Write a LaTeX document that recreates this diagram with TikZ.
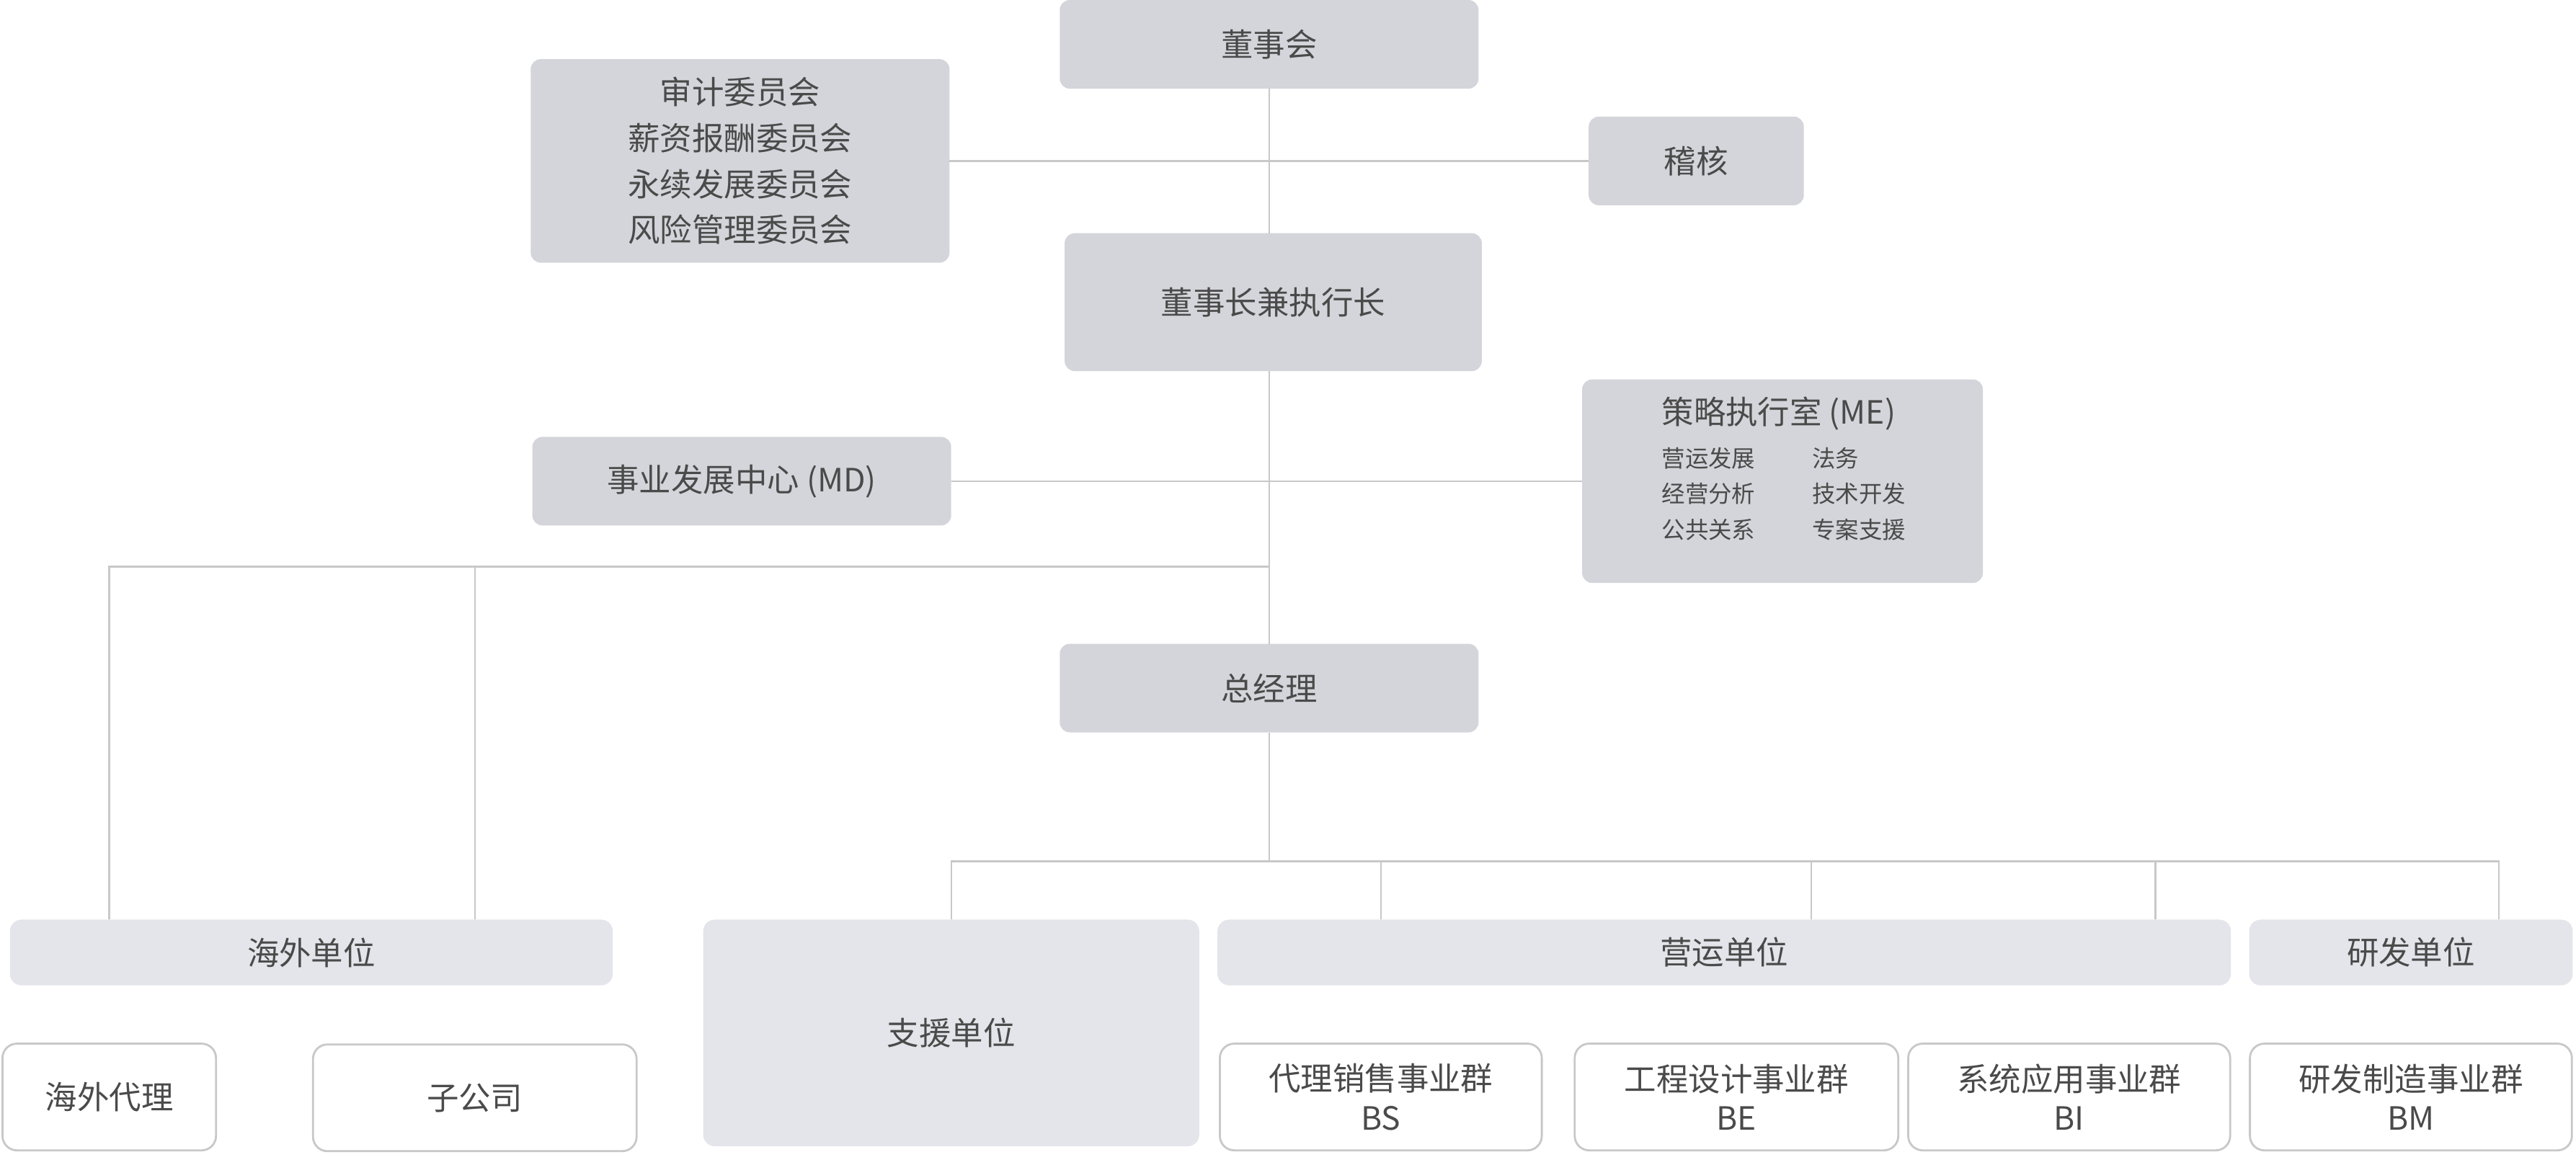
\documentclass[tikz,border=0pt]{standalone}
\usepackage{fontspec}
\setmainfont{Noto Sans CJK SC}
\definecolor{boxdark}{HTML}{D4D5DA}
\definecolor{boxlight}{HTML}{E4E5EA}
\definecolor{linegray}{HTML}{C8C8C8}
\definecolor{textgray}{HTML}{4A4A4A}

\begin{document}
\begin{tikzpicture}[x=0.02cm,y=-0.02cm,
  every node/.style={text=textgray,inner sep=0pt,outer sep=0pt,
    font=\fontsize{11.1}{15.9}\selectfont},
  topbox/.style={fill=boxdark,rounded corners=3.5pt},
  unitbox/.style={fill=boxlight,rounded corners=4pt},
  leafbox/.style={draw=linegray,line width=0.7pt,fill=white,
    rounded corners=5pt,align=center,minimum height=1.3cm,
    font=\fontsize{11.1}{13.6}\selectfont},
  small/.style={anchor=west,font=\fontsize{8.1}{10}\selectfont},
  link/.style={draw=linegray,line width=0.6pt}]
  \useasboundingbox (0,0) rectangle (1568,709);
  % board level
  \node[topbox,minimum width=5.1cm,minimum height=1.08cm] (board) at (772.5,27) {董事会};
  \node[topbox,minimum width=5.1cm,minimum height=2.48cm,align=center] (cmte) at (450.5,98)
    {审计委员会\\薪资报酬委员会\\永续发展委员会\\风险管理委员会};
  \node[topbox,minimum width=2.62cm,minimum height=1.08cm] (audit) at (1032.5,98) {稽核};
  \node[topbox,minimum width=5.08cm,minimum height=1.68cm] (chair) at (775,184) {董事长兼执行长};
  % staff offices
  \node[topbox,minimum width=5.1cm,minimum height=1.08cm] (md) at (451.5,293) {事业发展中心 (MD)};
  \node[topbox,minimum width=4.88cm,minimum height=2.48cm] (me) at (1085,293) {};
  \node[anchor=west] (metitle) at (1011.5,252) {策略执行室 (ME)};
  \node[small] (meA) at (1011.5,279) {营运发展};
  \node[small] (meB) at (1103,279) {法务};
  \node[small] (meC) at (1011.5,300.5) {经营分析};
  \node[small] (meD) at (1103,300.5) {技术开发};
  \node[small] (meE) at (1011.5,322.5) {公共关系};
  \node[small] (meF) at (1103,322.5) {专案支援};
  \node[topbox,minimum width=5.1cm,minimum height=1.08cm] (gm) at (772.5,419) {总经理};
  % units
  \node[unitbox,minimum width=7.34cm,minimum height=0.8cm] (overseas) at (189.5,580) {海外单位};
  \node[unitbox,minimum width=6.04cm,minimum height=2.76cm] (support) at (579,629) {支援单位};
  \node[unitbox,minimum width=12.34cm,minimum height=0.8cm] (ops) at (1049.5,580) {营运单位};
  \node[unitbox,minimum width=3.94cm,minimum height=0.8cm] (rd) at (1467.5,580) {研发单位};
  % leaves
  \node[leafbox,minimum width=2.6cm] (agent) at (66.5,668) {海外代理};
  \node[leafbox,minimum width=3.94cm] (sub) at (289,668.5) {子公司};
  \node[leafbox,minimum width=3.92cm] (bs) at (840.5,668) {代理销售事业群\\BS};
  \node[leafbox,minimum width=3.94cm] (be) at (1057,668) {工程设计事业群\\BE};
  \node[leafbox,minimum width=3.92cm] (bi) at (1259.5,668) {系统应用事业群\\BI};
  \node[leafbox,minimum width=3.92cm] (bm) at (1467.5,668) {研发制造事业群\\BM};
  % connectors
  \coordinate (hubL) at (772.5,345);
  \coordinate (hubB) at (772.5,524.5);
  \coordinate (dropB) at (1102.5,524.5);
  \coordinate (dropC) at (1312,524.5);
  \coordinate (dropE) at (1521,524.5);
  \draw[link] (board.south) -- (board.south |- chair.north);
  \draw[link] (board.south |- chair.south) -- (gm.north);
  \draw[link] (cmte.east) -- (audit.west);
  \draw[link] (md.east) -- (me.west);
  \draw[link] (agent |- overseas.north) |- (hubL);
  \draw[link] (sub |- overseas.north) -- (sub |- hubL);
  \draw[link] (gm.south) -- (hubB);
  \draw[link] (support.north) |- (hubB) -- (dropE) -- (dropE |- rd.north);
  \draw[link] (hubB -| bs) -- (bs |- ops.north);
  \draw[link] (dropB) -- (dropB |- ops.north);
  \draw[link] (dropC) -- (dropC |- ops.north);
\end{tikzpicture}
\end{document}
